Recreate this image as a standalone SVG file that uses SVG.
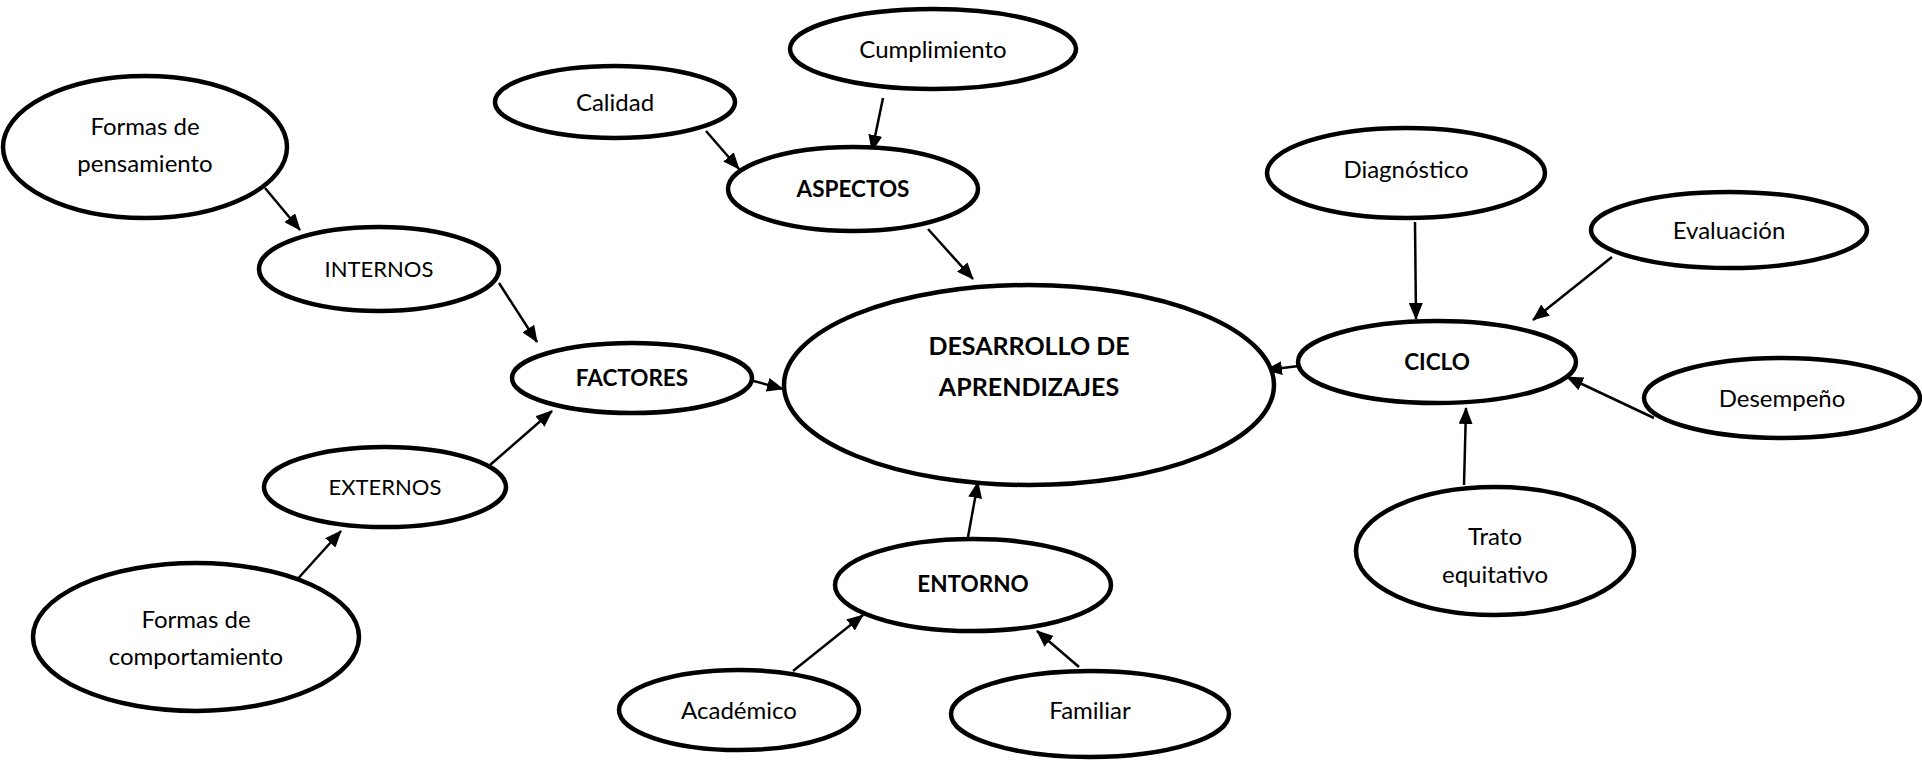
<svg xmlns="http://www.w3.org/2000/svg" width="1922" height="760" viewBox="0 0 1922 760">
<style>
.n{fill:#fff;stroke:#000;stroke-width:4.5}
.t{font-family:Lato,"Open Sans",sans-serif;font-size:24px;fill:#000;text-anchor:middle}
.u{font-size:22px}
.b{font-weight:bold;font-size:22.5px}
.big{font-size:25px}
.c{stroke:#000;stroke-width:2.5;fill:none;marker-end:url(#ah)}
</style>
<defs>
<marker id="ah" markerUnits="userSpaceOnUse" markerWidth="18" markerHeight="14" refX="16" refY="7" orient="auto">
<path d="M0,0 L17,7 L0,14 z" fill="#000"/>
</marker>
</defs>
<rect width="1922" height="760" fill="#fff"/>
<g id="connectors">
<line class="c" x1="265" y1="188" x2="300" y2="230"/>
<line class="c" x1="499" y1="283" x2="537" y2="342"/>
<line class="c" x1="490" y1="465" x2="552" y2="411"/>
<line class="c" x1="294" y1="583" x2="341" y2="531"/>
<line class="c" x1="750" y1="380" x2="783" y2="389"/>
<line class="c" x1="706" y1="131" x2="739" y2="169"/>
<line class="c" x1="883" y1="98" x2="872" y2="151"/>
<line class="c" x1="928" y1="229" x2="973" y2="279"/>
<line class="c" x1="968" y1="537" x2="978" y2="482"/>
<line class="c" x1="793" y1="671" x2="863" y2="615"/>
<line class="c" x1="1079" y1="667" x2="1037" y2="631"/>
<line class="c" x1="1299" y1="366" x2="1266" y2="370"/>
<line class="c" x1="1415" y1="222" x2="1416" y2="319"/>
<line class="c" x1="1612" y1="257" x2="1533" y2="320"/>
<line class="c" x1="1654" y1="418" x2="1567" y2="377"/>
<line class="c" x1="1464" y1="485" x2="1466" y2="408"/>
</g>
<g id="formas-pensamiento"><ellipse class="n" cx="145" cy="147" rx="142" ry="71"/><text class="t" x="145" y="135">Formas de</text><text class="t" x="145" y="172">pensamiento</text></g>
<g id="internos"><ellipse class="n" cx="379" cy="269" rx="120" ry="42"/><text class="t u" x="379" y="277">INTERNOS</text></g>
<g id="factores"><ellipse class="n" cx="632" cy="378" rx="120" ry="35"/><text class="t b" x="632" y="386">FACTORES</text></g>
<g id="externos"><ellipse class="n" cx="385" cy="487" rx="121" ry="40"/><text class="t u" x="385" y="495">EXTERNOS</text></g>
<g id="formas-comportamiento"><ellipse class="n" cx="196" cy="637" rx="163" ry="74"/><text class="t" x="196" y="628">Formas de</text><text class="t" x="196" y="665">comportamiento</text></g>
<g id="calidad"><ellipse class="n" cx="615" cy="102" rx="120" ry="36"/><text class="t" x="615" y="111">Calidad</text></g>
<g id="cumplimiento"><ellipse class="n" cx="933" cy="49" rx="143" ry="40"/><text class="t" x="933" y="58">Cumplimiento</text></g>
<g id="aspectos"><ellipse class="n" cx="853" cy="189" rx="125" ry="42"/><text class="t b" x="853" y="197">ASPECTOS</text></g>
<g id="desarrollo"><ellipse class="n" cx="1029" cy="385" rx="245" ry="100"/><text class="t b big" x="1029" y="355">DESARROLLO DE</text><text class="t b big" x="1029" y="396">APRENDIZAJES</text></g>
<g id="entorno"><ellipse class="n" cx="973" cy="585" rx="138" ry="46"/><text class="t b" x="973" y="592">ENTORNO</text></g>
<g id="academico"><ellipse class="n" cx="739" cy="710" rx="120" ry="40"/><text class="t" x="739" y="719">Académico</text></g>
<g id="familiar"><ellipse class="n" cx="1090" cy="714" rx="139" ry="43"/><text class="t" x="1090" y="719">Familiar</text></g>
<g id="diagnostico"><ellipse class="n" cx="1406" cy="173" rx="139" ry="45"/><text class="t" x="1406" y="178">Diagnóstico</text></g>
<g id="evaluacion"><ellipse class="n" cx="1729" cy="230" rx="138" ry="38"/><text class="t" x="1729" y="239">Evaluación</text></g>
<g id="ciclo"><ellipse class="n" cx="1437" cy="362" rx="139" ry="41"/><text class="t b" x="1437" y="370">CICLO</text></g>
<g id="desempeno"><ellipse class="n" cx="1782" cy="398" rx="138" ry="40"/><text class="t" x="1782" y="407">Desempeño</text></g>
<g id="trato"><ellipse class="n" cx="1495" cy="551" rx="139" ry="64"/><text class="t" x="1495" y="545">Trato</text><text class="t" x="1495" y="583">equitativo</text></g>
</svg>
